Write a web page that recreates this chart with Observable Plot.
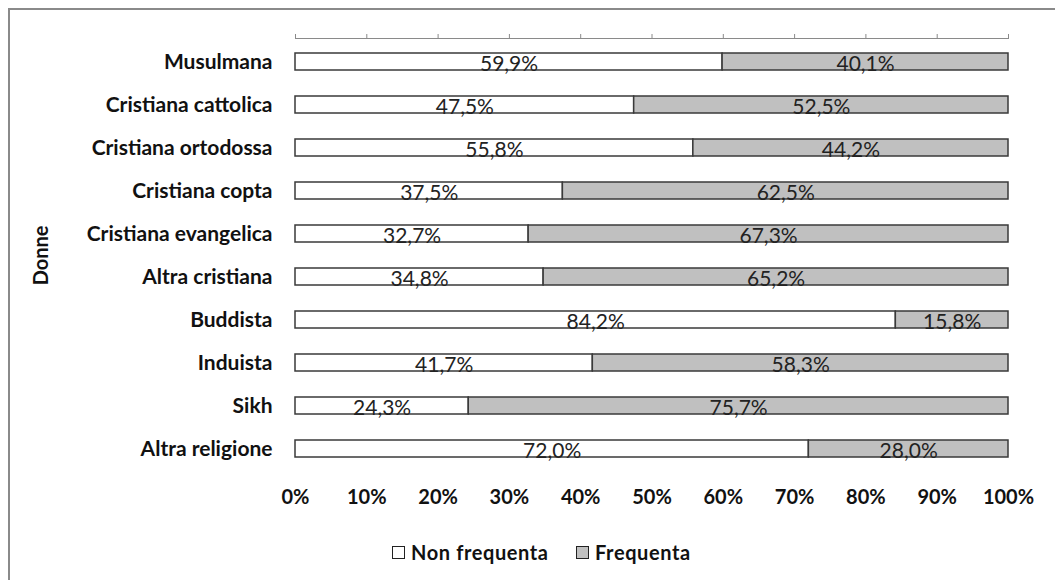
<!DOCTYPE html>
<html>
<head>
<meta charset="utf-8">
<script src="https://cdn.jsdelivr.net/npm/d3@7"></script>
<script src="https://cdn.jsdelivr.net/npm/@observablehq/plot@0.6"></script>
<style>
  html, body { margin: 0; padding: 0; background: #fff; width: 1055px; height: 580px; overflow: hidden; }
  #frame { position: absolute; left: 8px; top: 8px; width: 1200px; height: 700px; border-left: 2px solid #8a8a8a; border-top: 2px solid #8a8a8a; }
  #chart { position: absolute; left: 0; top: 0; }
  #legend { position: absolute; left: 0; top: 539px; width: 1055px; height: 26px; font-family: Lato, sans-serif; font-weight: 700; font-size: 20px; letter-spacing: 0.6px; color: #111; }
  .item { position: absolute; top: 0; display: flex; align-items: center; height: 26px; }
  .sw { width: 11px; height: 11px; border: 1px solid #222; margin-right: 6px; }
</style>
</head>
<body>
<div id="frame"></div>
<div id="chart"></div>
<div id="legend"></div>
<script>
const categories = ["Musulmana", "Cristiana cattolica", "Cristiana ortodossa", "Cristiana copta", "Cristiana evangelica", "Altra cristiana", "Buddista", "Induista", "Sikh", "Altra religione"];
const nonFrequenta = [59.9, 47.5, 55.8, 37.5, 32.7, 34.8, 84.2, 41.7, 24.3, 72.0];
const frequenta = [40.1, 52.5, 44.2, 62.5, 67.3, 65.2, 15.8, 58.3, 75.7, 28.0];
const seriesNames = ["Non frequenta", "Frequenta"];
const seriesColors = ["#ffffff", "#c0c0c0"];
const xTicks = [0, 10, 20, 30, 40, 50, 60, 70, 80, 90, 100];
const yTitle = "Donne";

const rows = [];
categories.forEach((c, i) => {
  rows.push({cat: c, serie: seriesNames[0], value: nonFrequenta[i]});
  rows.push({cat: c, serie: seriesNames[1], value: frequenta[i]});
});
const fmt = v => d3.format(".1f")(v).replace(".", ",") + "%";

const H = 530;
const chart = Plot.plot({
  width: 1055,
  height: H,
  marginLeft: 295,
  marginRight: 47,
  marginTop: 38,
  marginBottom: H - 471.7,
  x: {domain: [0, 100], axis: null},
  y: {domain: categories, paddingInner: 0.6, paddingOuter: 0.3, axis: null},
  color: {domain: seriesNames, range: seriesColors},
  style: {background: "transparent"},
  marks: [
    Plot.barX(rows, Plot.stackX({
      y: "cat", x: "value", fill: "serie", z: "serie", order: seriesNames,
      stroke: "#3a3a3a", strokeWidth: 1.5
    })),
    Plot.text(rows, Plot.stackX({
      y: "cat", x: "value", z: "serie", order: seriesNames, text: d => fmt(d.value),
      fontFamily: "Lato, sans-serif", fontSize: 21, fill: "#222", dy: 2
    })),
    Plot.axisY({
      anchor: "left", tickSize: 0, tickPadding: 23, label: null,
      fontFamily: "Lato, sans-serif", fontWeight: 700, fontSize: 21, fill: "#111",
      style: {letterSpacing: "0.8px"}
    }),
    Plot.axisX({
      anchor: "top", ticks: xTicks, tickSize: 5, tickFormat: () => "", stroke: "#8a8a8a", label: null
    }),
    Plot.axisX({
      anchor: "bottom", ticks: xTicks, tickSize: 0, tickPadding: 18,
      tickFormat: d => d + "%", label: null,
      fontFamily: "Lato, sans-serif", fontWeight: 700, fontSize: 20, fill: "#111",
      style: {letterSpacing: "0.5px"}
    }),
    Plot.text([yTitle], {
      frameAnchor: "left", dx: -254, rotate: -90, textAnchor: "middle", text: d => d,
      fontFamily: "Lato, sans-serif", fontWeight: 700, fontSize: 20, fill: "#111"
    })
  ]
});
document.getElementById("chart").appendChild(chart);

// top axis baseline, using the plot's x scale
const xs = chart.scale("x");
const ns = "http://www.w3.org/2000/svg";
const line = document.createElementNS(ns, "line");
line.setAttribute("x1", xs.apply(0));
line.setAttribute("x2", xs.apply(100));
line.setAttribute("y1", 38.5);
line.setAttribute("y2", 38.5);
line.setAttribute("stroke", "#8a8a8a");
chart.appendChild(line);

const legend = document.getElementById("legend");
const legendX = [392, 576];
seriesNames.forEach((s, i) => {
  const it = document.createElement("div");
  it.className = "item";
  it.style.left = legendX[i] + "px";
  const sw = document.createElement("div");
  sw.className = "sw";
  sw.style.background = seriesColors[i];
  it.appendChild(sw);
  it.appendChild(document.createTextNode(s));
  legend.appendChild(it);
});
</script>
</body>
</html>
